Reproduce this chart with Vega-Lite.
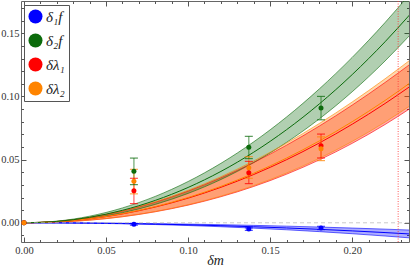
{
 "$schema": "https://vega.github.io/schema/vega-lite/v6.json",
 "width": 388, "height": 241,
 "autosize": {"type": "none"},
 "padding": {"left": 21, "top": 1, "right": 2, "bottom": 28},
 "background": "white",
 "config": {
  "view": {"stroke": "#666", "strokeWidth": 1},
  "axis": {"labelFont": "Liberation Serif", "labelFontSize": 10.5, "labelColor": "#333", "tickColor": "#555", "domain": false, "grid": false, "titleFont": "Liberation Serif"},
  "legend": {"orient": "none", "legendX": 3, "legendY": 4, "title": null, "symbolType": "circle", "symbolSize": 196, "symbolStrokeWidth": 0, "symbolOpacity": 1,
      "labelFont": "Liberation Serif", "labelFontSize": 15, "labelFontStyle": "italic", "labelColor": "#222", "labelOffset": 3,
      "strokeColor": "#555", "fillColor": "white", "padding": 4, "rowPadding": 8}
 },
 "datasets": {
  "bands": [
   {"s":"δ₁f","x":0,"lo":0,"mid":0,"hi":0},
   {"s":"δ₁f","x":0.02,"lo":-0.0000864,"mid":-0.000064,"hi":-0.0000416},
   {"s":"δ₁f","x":0.04,"lo":-0.000346,"mid":-0.000256,"hi":-0.000166},
   {"s":"δ₁f","x":0.06,"lo":-0.000778,"mid":-0.000576,"hi":-0.000374},
   {"s":"δ₁f","x":0.08,"lo":-0.001382,"mid":-0.001024,"hi":-0.000666},
   {"s":"δ₁f","x":0.10,"lo":-0.00216,"mid":-0.0016,"hi":-0.00104},
   {"s":"δ₁f","x":0.12,"lo":-0.00311,"mid":-0.002304,"hi":-0.001498},
   {"s":"δ₁f","x":0.14,"lo":-0.004234,"mid":-0.003136,"hi":-0.002038},
   {"s":"δ₁f","x":0.16,"lo":-0.00553,"mid":-0.004096,"hi":-0.002662},
   {"s":"δ₁f","x":0.18,"lo":-0.006998,"mid":-0.005184,"hi":-0.00337},
   {"s":"δ₁f","x":0.20,"lo":-0.00864,"mid":-0.0064,"hi":-0.00416},
   {"s":"δ₁f","x":0.22,"lo":-0.010454,"mid":-0.007744,"hi":-0.005034},
   {"s":"δ₁f","x":0.235,"lo":-0.011928,"mid":-0.008836,"hi":-0.005743},
   {"s":"δλ₁","x":0,"lo":0,"mid":0,"hi":0},
   {"s":"δλ₁","x":0.02,"lo":0.0005,"mid":0.00078,"hi":0.00106},
   {"s":"δλ₁","x":0.04,"lo":0.00207,"mid":0.00312,"hi":0.00417},
   {"s":"δλ₁","x":0.06,"lo":0.00478,"mid":0.00702,"hi":0.00926},
   {"s":"δλ₁","x":0.08,"lo":0.00872,"mid":0.01248,"hi":0.01624},
   {"s":"δλ₁","x":0.10,"lo":0.01397,"mid":0.0195,"hi":0.02503},
   {"s":"δλ₁","x":0.12,"lo":0.02062,"mid":0.02808,"hi":0.03554},
   {"s":"δλ₁","x":0.14,"lo":0.02875,"mid":0.03822,"hi":0.04769},
   {"s":"δλ₁","x":0.16,"lo":0.03844,"mid":0.04992,"hi":0.0614},
   {"s":"δλ₁","x":0.18,"lo":0.04979,"mid":0.06318,"hi":0.07657},
   {"s":"δλ₁","x":0.20,"lo":0.06287,"mid":0.078,"hi":0.09313},
   {"s":"δλ₁","x":0.22,"lo":0.07776,"mid":0.09438,"hi":0.111},
   {"s":"δλ₁","x":0.235,"lo":0.09017,"mid":0.10769,"hi":0.12521},
   {"s":"δλ₂","x":0,"lo":0,"mid":0,"hi":0},
   {"s":"δλ₂","x":0.02,"lo":0.00051,"mid":0.0008,"hi":0.00109},
   {"s":"δλ₂","x":0.04,"lo":0.00212,"mid":0.0032,"hi":0.00429},
   {"s":"δλ₂","x":0.06,"lo":0.00489,"mid":0.0072,"hi":0.00951},
   {"s":"δλ₂","x":0.08,"lo":0.00892,"mid":0.0128,"hi":0.01668},
   {"s":"δλ₂","x":0.10,"lo":0.0143,"mid":0.02,"hi":0.0257},
   {"s":"δλ₂","x":0.12,"lo":0.02111,"mid":0.0288,"hi":0.03649},
   {"s":"δλ₂","x":0.14,"lo":0.02944,"mid":0.0392,"hi":0.04896},
   {"s":"δλ₂","x":0.16,"lo":0.03937,"mid":0.0512,"hi":0.06303},
   {"s":"δλ₂","x":0.18,"lo":0.051,"mid":0.0648,"hi":0.0786},
   {"s":"δλ₂","x":0.20,"lo":0.0644,"mid":0.08,"hi":0.0956},
   {"s":"δλ₂","x":0.22,"lo":0.07967,"mid":0.0968,"hi":0.11393},
   {"s":"δλ₂","x":0.235,"lo":0.09239,"mid":0.11045,"hi":0.12851},
   {"s":"δ₂f","x":0,"lo":0,"mid":0,"hi":0},
   {"s":"δ₂f","x":0.02,"lo":0.00084,"mid":0.00107,"hi":0.0013},
   {"s":"δ₂f","x":0.04,"lo":0.00346,"mid":0.00434,"hi":0.00522},
   {"s":"δ₂f","x":0.06,"lo":0.00799,"mid":0.00987,"hi":0.01175},
   {"s":"δ₂f","x":0.08,"lo":0.01455,"mid":0.01772,"hi":0.02089},
   {"s":"δ₂f","x":0.10,"lo":0.02326,"mid":0.02796,"hi":0.03266},
   {"s":"δ₂f","x":0.12,"lo":0.03426,"mid":0.04065,"hi":0.04704},
   {"s":"δ₂f","x":0.14,"lo":0.04768,"mid":0.05587,"hi":0.06406},
   {"s":"δ₂f","x":0.16,"lo":0.06363,"mid":0.07367,"hi":0.08371},
   {"s":"δ₂f","x":0.18,"lo":0.08226,"mid":0.09412,"hi":0.10598},
   {"s":"δ₂f","x":0.20,"lo":0.10368,"mid":0.11728,"hi":0.13088},
   {"s":"δ₂f","x":0.22,"lo":0.12803,"mid":0.14323,"hi":0.15843},
   {"s":"δ₂f","x":0.235,"lo":0.14829,"mid":0.16455,"hi":0.18081}
  ],
  "pts": [
   {"s":"δ₁f","x":0,"y":0},
   {"s":"δ₂f","x":0,"y":0},
   {"s":"δλ₁","x":0,"y":0},
   {"s":"δλ₂","x":0,"y":0},
   {"s":"δ₁f","x":0.067,"y":-0.0012,"lo":-0.0019,"hi":-0.0005},
   {"s":"δ₁f","x":0.137,"y":-0.005,"lo":-0.006,"hi":-0.004},
   {"s":"δ₁f","x":0.181,"y":-0.0041,"lo":-0.0054,"hi":-0.0028},
   {"s":"δ₂f","x":0.067,"y":0.0407,"lo":0.0302,"hi":0.0512},
   {"s":"δ₂f","x":0.137,"y":0.0597,"lo":0.0508,"hi":0.0684},
   {"s":"δ₂f","x":0.181,"y":0.0908,"lo":0.0815,"hi":0.1},
   {"s":"δλ₁","x":0.067,"y":0.0253,"lo":0.0152,"hi":0.0352},
   {"s":"δλ₁","x":0.137,"y":0.0395,"lo":0.031,"hi":0.0486},
   {"s":"δλ₁","x":0.181,"y":0.061,"lo":0.0513,"hi":0.0702},
   {"s":"δλ₂","x":0.067,"y":0.0328,"lo":0.0229,"hi":0.0423},
   {"s":"δλ₂","x":0.137,"y":0.0436,"lo":0.0352,"hi":0.0523},
   {"s":"δλ₂","x":0.181,"y":0.0585,"lo":0.0492,"hi":0.068}
  ],
  "refs": [{"x0": 0.228, "y0": 0}]
 },
 "layer": [
  {
   "data": {"name": "bands"},
   "mark": {"type": "area", "interpolate": "monotone", "fillOpacity": 0.32, "clip": true},
   "encoding": {
    "x": {"field": "x", "type": "quantitative", "scale": {"domain": [-0.0018, 0.2346], "nice": false, "zero": false},
          "axis": {"orient": "bottom", "values": [0, 0.05, 0.1, 0.15, 0.2], "format": ".2f", "tickSize": -5, "labelPadding": 8, "title": "δm", "titleFontStyle": "italic", "titleFontSize": 14, "titleFontWeight": "normal", "titleColor": "#222", "titlePadding": -2}},
    "y": {"field": "lo", "type": "quantitative", "scale": {"domain": [-0.0152, 0.1755], "nice": false, "zero": false},
          "axis": {"orient": "left", "values": [0, 0.05, 0.1, 0.15], "format": ".2f", "tickSize": -5, "labelPadding": 7, "title": null}},
    "y2": {"field": "hi"},
    "color": {"field": "s", "type": "nominal"},
    "detail": {"field": "s"}
   }
  },
  {
   "data": {"name": "bands"},
   "mark": {"type": "line", "interpolate": "monotone", "strokeWidth": 0.8, "opacity": 0.75, "clip": true},
   "encoding": {
    "x": {"field": "x", "type": "quantitative", "axis": {"orient": "bottom", "values": [0.01,0.02,0.03,0.04,0.06,0.07,0.08,0.09,0.11,0.12,0.13,0.14,0.16,0.17,0.18,0.19,0.21,0.22,0.23], "tickSize": -2.5, "labels": false, "title": null}},
    "y": {"field": "lo", "type": "quantitative", "axis": {"orient": "left", "values": [-0.01,0.01,0.02,0.03,0.04,0.06,0.07,0.08,0.09,0.11,0.12,0.13,0.14,0.16,0.17], "tickSize": -2.5, "labels": false, "title": null}},
    "color": {"field": "s", "type": "nominal"}
   }
  },
  {
   "data": {"name": "bands"},
   "mark": {"type": "line", "interpolate": "monotone", "strokeWidth": 0.8, "opacity": 0.75, "clip": true},
   "encoding": {
    "x": {"field": "x", "type": "quantitative", "axis": {"orient": "top", "values": [0, 0.05, 0.1, 0.15, 0.2], "tickSize": -5, "labels": false, "title": null}},
    "y": {"field": "hi", "type": "quantitative", "axis": {"orient": "right", "values": [0, 0.05, 0.1, 0.15], "tickSize": -5, "labels": false, "title": null}},
    "color": {"field": "s", "type": "nominal"}
   }
  },
  {
   "data": {"name": "bands"},
   "mark": {"type": "line", "interpolate": "monotone", "strokeWidth": 1, "clip": true},
   "encoding": {
    "x": {"field": "x", "type": "quantitative", "axis": {"orient": "top", "values": [0.01,0.02,0.03,0.04,0.06,0.07,0.08,0.09,0.11,0.12,0.13,0.14,0.16,0.17,0.18,0.19,0.21,0.22,0.23], "tickSize": -2.5, "labels": false, "title": null}},
    "y": {"field": "mid", "type": "quantitative", "axis": {"orient": "right", "values": [-0.01,0.01,0.02,0.03,0.04,0.06,0.07,0.08,0.09,0.11,0.12,0.13,0.14,0.16,0.17], "tickSize": -2.5, "labels": false, "title": null}},
    "color": {"field": "s", "type": "nominal"}
   }
  },
  {
   "data": {"name": "refs"},
   "mark": {"type": "rule", "color": "#bbbbbb", "strokeDash": [4, 3], "strokeWidth": 0.8},
   "encoding": {"y": {"field": "y0", "type": "quantitative", "axis": null}}
  },
  {
   "data": {"name": "refs"},
   "mark": {"type": "rule", "color": "#ff3030", "strokeDash": [1, 1.5], "strokeWidth": 1, "opacity": 0.8},
   "encoding": {"x": {"field": "x0", "type": "quantitative", "axis": null}}
  },
  {
   "data": {"name": "pts"},
   "mark": {"type": "rule", "strokeWidth": 1.2, "opacity": 0.6},
   "encoding": {
    "x": {"field": "x", "type": "quantitative", "axis": null},
    "y": {"field": "lo", "type": "quantitative", "axis": null},
    "y2": {"field": "hi"},
    "color": {"field": "s", "type": "nominal"}
   }
  },
  {
   "data": {"name": "pts"},
   "mark": {"type": "tick", "orient": "horizontal", "size": 8, "thickness": 1.2, "opacity": 0.7},
   "encoding": {
    "x": {"field": "x", "type": "quantitative", "axis": null},
    "y": {"field": "lo", "type": "quantitative", "axis": null},
    "color": {"field": "s", "type": "nominal"}
   }
  },
  {
   "data": {"name": "pts"},
   "mark": {"type": "tick", "orient": "horizontal", "size": 8, "thickness": 1.2, "opacity": 0.7},
   "encoding": {
    "x": {"field": "x", "type": "quantitative", "axis": null},
    "y": {"field": "hi", "type": "quantitative", "axis": null},
    "color": {"field": "s", "type": "nominal"}
   }
  },
  {
   "data": {"name": "pts"},
   "mark": {"type": "point", "filled": true, "size": 25, "opacity": 1},
   "encoding": {
    "x": {"field": "x", "type": "quantitative", "axis": null},
    "y": {"field": "y", "type": "quantitative", "axis": null},
    "color": {"field": "s", "type": "nominal",
     "scale": {"domain": ["δ₁f", "δ₂f", "δλ₁", "δλ₂"], "range": ["#0000ff", "#0b6b0b", "#ff0000", "#ff8400"]},
     "legend": {"symbolType": "circle", "symbolOpacity": 1, "symbolFillColor": null}}
   }
  }
 ],
 "resolve": {"axis": {"x": "independent", "y": "independent"}}
}
